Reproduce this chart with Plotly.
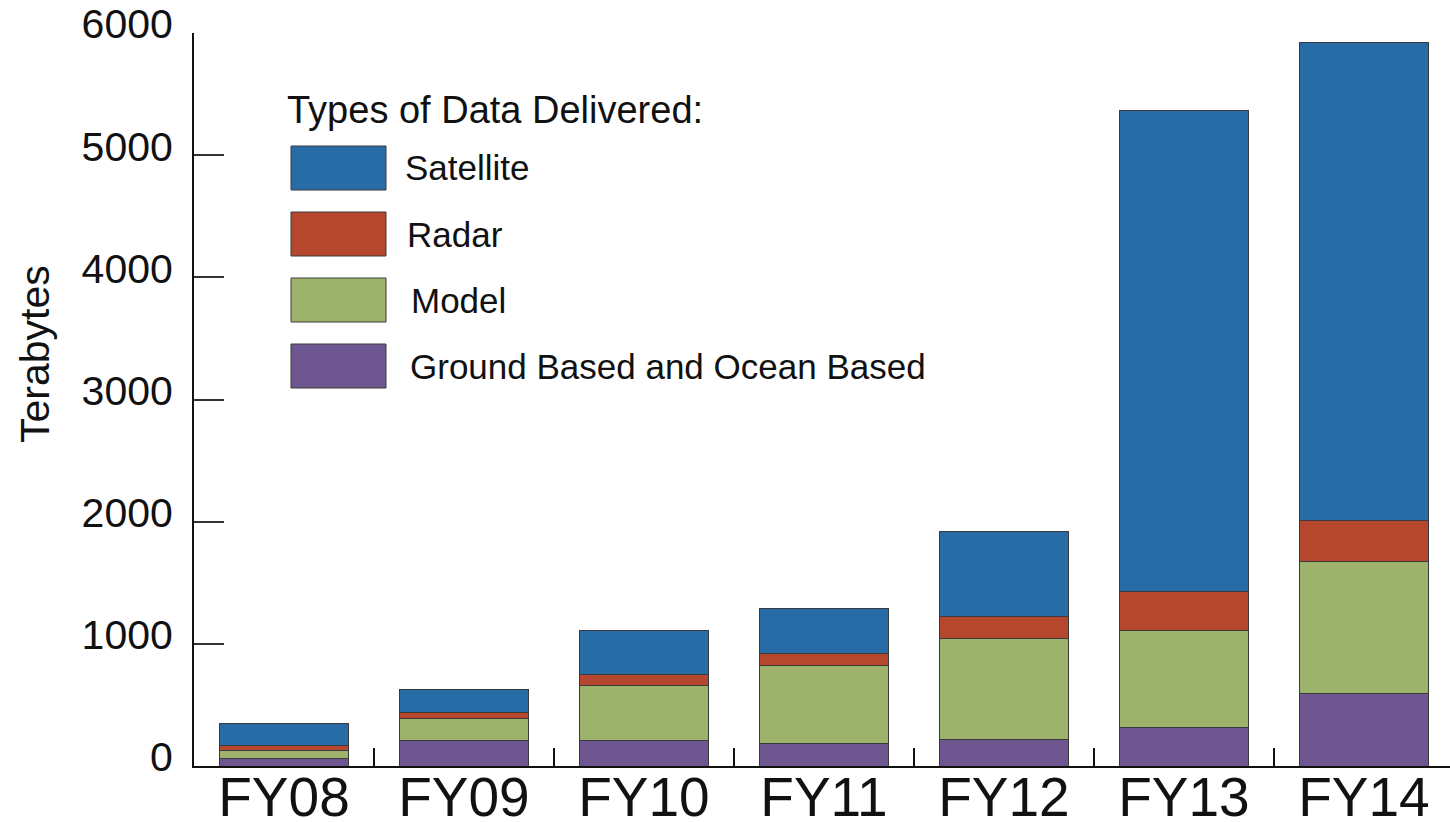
import plotly.graph_objects as go

categories = ["FY08", "FY09", "FY10", "FY11", "FY12", "FY13", "FY14"]
ground_ocean = [65, 205, 205, 188, 221, 319, 597]
model = [65, 180, 458, 638, 826, 794, 1081]
radar = [40, 49, 90, 99, 180, 319, 335]
satellite = [174, 196, 360, 368, 696, 3936, 3912]
y_tick_values = [0, 1000, 2000, 3000, 4000, 5000, 6000]
y_minor_ticks = [1000, 2000, 3000, 4000, 5000]

series = [
    ("Ground Based and Ocean Based", ground_ocean, "#6E5790"),
    ("Model", model, "#9DB26C"),
    ("Radar", radar, "#B4472D"),
    ("Satellite", satellite, "#276CA7"),
]

FONT = "Liberation Sans, Arial, sans-serif"

fig = go.Figure()
for name, vals, color in series:
    fig.add_trace(go.Bar(
        x=categories, y=vals, name=name,
        marker=dict(color=color, line=dict(color="#3a3a3a", width=1)),
        showlegend=False,
    ))

W, H = 1450, 822
L, R, T, B = 194, 0, 33, 56
pw, ph = W - L - R, H - T - B


def px(x):
    return (x - L) / pw


def py(y):
    return (H - B - y) / ph


shapes = []
annotations = []
# legend title
annotations.append(dict(text="Types of Data Delivered:", x=px(285), y=py(110),
                        xref="paper", yref="paper", xanchor="left", yanchor="middle",
                        showarrow=False, font=dict(family=FONT, size=38, color="#111")))
legend_order = list(reversed(series))
label_x = [403, 405, 409, 408]
for i, (name, vals, color) in enumerate(legend_order):
    top = 146 + 66 * i
    shapes.append(dict(type="rect", xref="paper", yref="paper",
                       x0=px(291), x1=px(386), y0=py(top), y1=py(top + 44),
                       fillcolor=color, line=dict(color="#3a3a3a", width=1)))
    annotations.append(dict(text=name, x=px(label_x[i]), y=py(top + 22),
                            xref="paper", yref="paper", xanchor="left", yanchor="middle",
                            showarrow=False, font=dict(family=FONT, size=35, color="#111")))
# y axis title
annotations.append(dict(text="Terabytes", x=px(35), y=py(354), xref="paper", yref="paper",
                        xanchor="center", yanchor="middle", textangle=-90, showarrow=False,
                        font=dict(family=FONT, size=41, color="#111")))

fig.update_layout(
    barmode="stack",
    bargap=0.283,
    width=W, height=H, autosize=False,
    margin=dict(l=L, r=R, t=T, b=B, pad=0, autoexpand=False),
    paper_bgcolor="white", plot_bgcolor="white",
    font=dict(family=FONT, color="#111"),
    shapes=shapes,
    annotations=annotations,
    xaxis=dict(
        type="category", range=[-0.5, 6.478], automargin=False,
        showline=True, linecolor="#111", linewidth=2,
        ticks="inside", tickson="boundaries", ticklen=18, tickwidth=2, tickcolor="#111",
        tickfont=dict(family=FONT, size=55, color="#111"),
        ticklabelstandoff=-18,
        showgrid=False, zeroline=False,
    ),
    yaxis=dict(
        range=[0, 6000], tickvals=y_tick_values, automargin=False,
        showline=True, linecolor="#111", linewidth=2,
        ticks="", ticklabelstandoff=11, ticklabelshift=-9,
        tickfont=dict(family=FONT, size=41, color="#111"),
        minor=dict(tickvals=y_minor_ticks, ticks="inside", ticklen=30, tickwidth=2,
                   tickcolor="#333", showgrid=False),
        showgrid=False, zeroline=False,
    ),
)

fig.write_html(
    "out.html",
    config={"responsive": False, "displayModeBar": False},
    post_script="document.body.style.margin='0';document.body.style.padding='0';"
                "document.documentElement.style.overflow='hidden';"
                "document.body.style.overflow='hidden';",
)
